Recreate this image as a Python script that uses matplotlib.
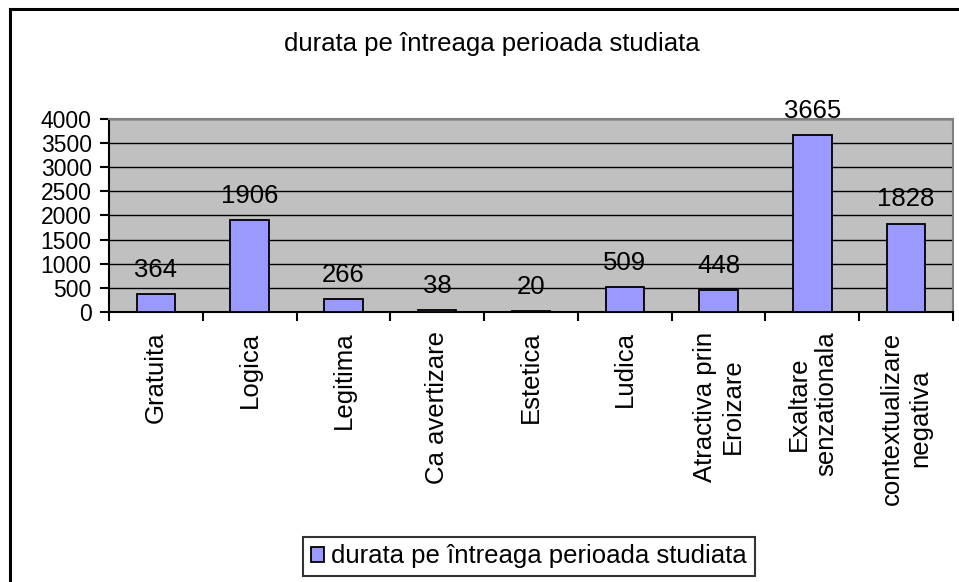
import numpy as np
import matplotlib.pyplot as plt
from matplotlib.lines import Line2D

plt.rcParams['font.family'] = ['Liberation Sans', 'DejaVu Sans']

# date
categorii = ['Gratuita', 'Logica', 'Legitima', 'Ca avertizare', 'Estetica',
             'Ludica', 'Atractiva prin\nEroizare', 'Exaltare\nsenzationala',
             'contextualizare\nnegativa']
valori = [364, 1906, 266, 38, 20, 509, 448, 3665, 1828]
serie = 'durata pe întreaga perioada studiata'
titlu = 'durata pe întreaga perioada studiata'
y_ticks = [0, 500, 1000, 1500, 2000, 2500, 3000, 3500, 4000]

W, H = 959, 582
fig = plt.figure(figsize=(W / 100, H / 100), dpi=100)
fig.patch.set_facecolor('white')

# chenarul exterior al graficului (taiat in dreapta si jos)
fig.add_artist(Line2D([9.5 / W, 9.5 / W], [1 - 8.5 / H, 0], transform=fig.transFigure,
                      color='black', lw=2.2))
fig.add_artist(Line2D([9.5 / W, 1], [1 - 8.5 / H, 1 - 8.5 / H], transform=fig.transFigure,
                      color='black', lw=2.2))

ax = fig.add_axes([109 / W, 1 - 312 / H, (953 - 109) / W, (312 - 119) / H])
ax.set_facecolor('#C0C0C0')

x = np.arange(len(categorii))
bars = ax.bar(x, valori, width=0.41, color='#9999FF', edgecolor='black',
              linewidth=1.3, zorder=3, label=serie)

for xi, v in zip(x, valori):
    ax.annotate(str(v), (xi, v), xytext=(0, 12.5), textcoords='offset points',
                ha='center', va='baseline', fontsize=18.5, color='black',
                annotation_clip=False)

ax.set_xlim(-0.5, len(categorii) - 0.5)
ax.set_ylim(0, 4000)
ax.set_yticks(y_ticks)
ax.yaxis.grid(True, color='black', linewidth=1.0, zorder=1)
ax.set_axisbelow(True)

# tick-uri pe granitele categoriilor, etichete in centru
ax.set_xticks(np.arange(len(categorii) + 1) - 0.5)
ax.set_xticklabels([])
ax.set_xticks(x, minor=True)
ax.set_xticklabels(categorii, minor=True, rotation=90, fontsize=18.5,
                   va='top', ha='center', multialignment='center')
ax.tick_params(axis='x', which='major', direction='out', length=6.5, width=1.5)
ax.tick_params(axis='x', which='minor', length=0, pad=14)
ax.tick_params(axis='y', direction='out', length=6.5, width=1.5, pad=6,
               labelsize=16.5)

for s in ['left', 'bottom']:
    ax.spines[s].set_color('black')
    ax.spines[s].set_linewidth(1.5)
for s in ['top', 'right']:
    ax.spines[s].set_color('#808080')
    ax.spines[s].set_linewidth(1.5)

fig.text(492 / W, 1 - 51 / H, titlu, ha='center', va='baseline', fontsize=18.5)

leg = fig.legend(handles=[bars], labels=[serie], loc='center',
                 bbox_to_anchor=(529 / W, 1 - 556.5 / H), fontsize=18.5,
                 frameon=True, fancybox=False, edgecolor='black',
                 handlelength=0.5, handleheight=0.5, handletextpad=0.3,
                 borderpad=0.3, borderaxespad=0)
leg.get_frame().set_linewidth(1.5)

fig.savefig('out.png', dpi=100)
